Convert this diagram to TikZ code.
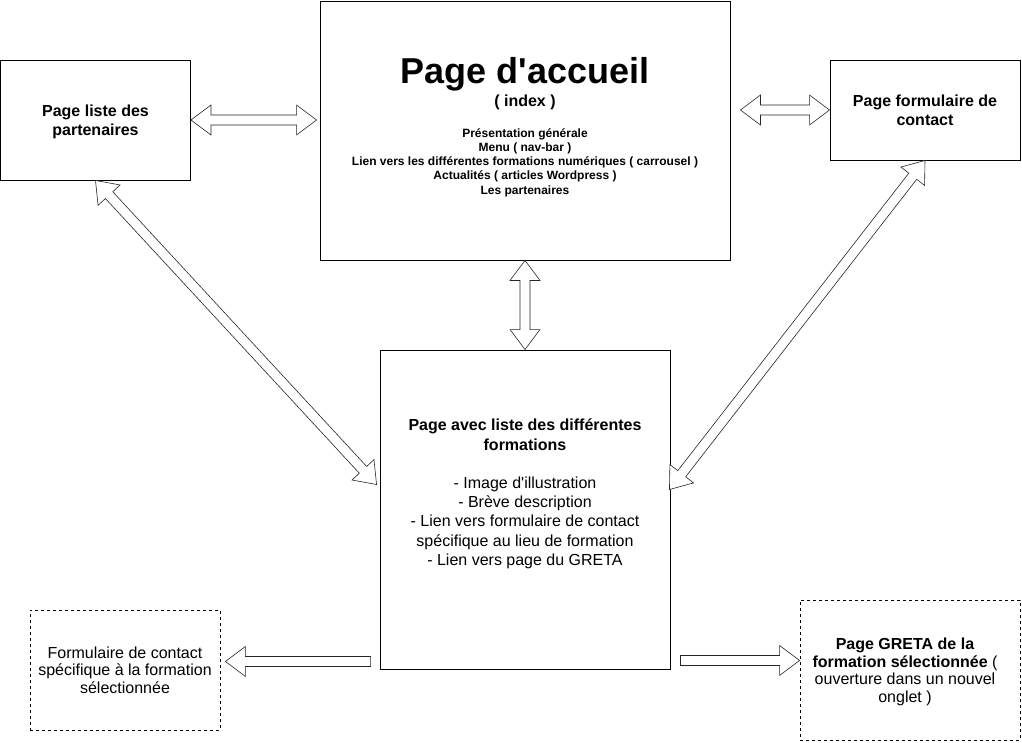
\documentclass[tikz,border=0pt]{standalone}
\usepackage{fontspec}
\setmainfont{Liberation Sans}[Ligatures=TeXOff]
\usetikzlibrary{calc}

% hollow block arrows, drawn as outlines between two points
\newcommand{\twoway}[2]{%
  \draw[blockarrow] (#1) -- ($(#1)!20pt!(#2)!15pt!90:(#2)$) -- ($(#1)!20pt!(#2)!5pt!90:(#2)$)
    -- ($(#2)!20pt!(#1)!5pt!-90:(#1)$) -- ($(#2)!20pt!(#1)!15pt!-90:(#1)$) -- (#2)
    -- ($(#2)!20pt!(#1)!15pt!90:(#1)$) -- ($(#2)!20pt!(#1)!5pt!90:(#1)$)
    -- ($(#1)!20pt!(#2)!5pt!-90:(#2)$) -- ($(#1)!20pt!(#2)!15pt!-90:(#2)$) -- cycle;}
\newcommand{\oneway}[2]{%
  \draw[blockarrow] (#2) -- ($(#2)!20pt!(#1)!15pt!90:(#1)$) -- ($(#2)!20pt!(#1)!5pt!90:(#1)$)
    -- ($(#1)!5pt!-90:(#2)$) -- ($(#1)!5pt!90:(#2)$)
    -- ($(#2)!20pt!(#1)!5pt!-90:(#1)$) -- ($(#2)!20pt!(#1)!15pt!-90:(#1)$) -- cycle;}

\tikzset{
  page/.style={draw, line width=0.9pt, inner sep=0pt},
  optpage/.style={draw, line width=0.8pt, dash pattern=on 3pt off 3pt, inner sep=0pt},
  title/.style={font=\fontsize{16}{19.2}\selectfont\bfseries, align=center, inner sep=0pt},
  plain/.style={font=\fontsize{16}{17.5}\selectfont, align=center, inner sep=0pt},
  blockarrow/.style={draw=black!85, line width=0.6pt, fill=white, line join=miter}
}

\begin{document}
\begin{tikzpicture}[x=1pt, y=-1pt]
  \useasboundingbox (0,0) rectangle (1022,742);

  % pages
  \node[page, minimum width=410pt, minimum height=259pt] (accueil) at (525,130.5) {};
  \node[page, minimum width=190pt, minimum height=120pt] (part) at (95.5,120) {};
  \node[page, minimum width=190pt, minimum height=100pt] (contact) at (925,110) {};
  \node[page, minimum width=290pt, minimum height=319pt] (form) at (525,509.5) {};
  \node[optpage, minimum width=190pt, minimum height=120pt] (formu) at (125,670) {};
  \node[optpage, minimum width=220pt, minimum height=140pt] (greta) at (910,670) {};

  % texts
  \node[anchor=base, inner sep=0pt, font=\fontsize{36}{43}\selectfont\bfseries] (accueiltitle) at (525,83) {Page d'accueil};
  \node[anchor=base, title] (index) at (525,106) {( index )};
  \node[anchor=north, inner sep=0pt, align=center, font=\fontsize{12}{14.3}\selectfont\bfseries] (accueillist) at (525,128) {Présentation générale\\Menu ( nav-bar )\\Lien vers les différentes formations numériques ( carrousel )\\Actualités ( articles Wordpress )\\Les partenaires};
  \node[title] (parttxt) at ($(part)+(0,2)$) {Page liste des\\partenaires};
  \node[title] (contacttxt) at (contact) {Page formulaire de\\contact};
  \node[anchor=north, font=\fontsize{16}{19.2}\selectfont, align=center, inner sep=0pt] (formtxt) at (525,419) {\textbf{Page avec liste des différentes}\\\textbf{formations}\\[19.2pt]- Image d'illustration\\- Brève description\\- Lien vers formulaire de contact\\spécifique au lieu de formation\\- Lien vers page du GRETA};
  \node[plain] (formutxt) at (125,670) {Formulaire de contact\\spécifique à la formation\\sélectionnée};
  \node[plain] (gretatxt) at (905,672) {\textbf{Page GRETA de la}\\\textbf{formation sélectionnée} (\\ouverture dans un nouvel\\onglet )};

  % arrow ends
  \coordinate (ac) at ($(accueil.east |- contact.west)+(10,0)$);
  \coordinate (fp) at ($(form.west)+(-3,-25)$);
  \coordinate (fc) at ($(form.east)+(-1,-20)$);
  \coordinate (fl) at ($(form.south west)+(-9,-8)$);
  \coordinate (fr) at ($(form.south east)+(10,-9)$);
  \coordinate (pa) at ($(part.east -| accueil.west)+(-3,0)$);
  \coordinate (lf) at ($(formu.east |- fl)+(5,0)$);
  \coordinate (rg) at (greta.west |- fr);

  % arrows
  \twoway{part.east}{pa}
  \twoway{ac}{contact.west}
  \twoway{accueil.south}{form.north}
  \twoway{part.south}{fp}
  \twoway{contact.south}{fc}
  \oneway{fl}{lf}
  \oneway{fr}{rg}
\end{tikzpicture}
\end{document}
